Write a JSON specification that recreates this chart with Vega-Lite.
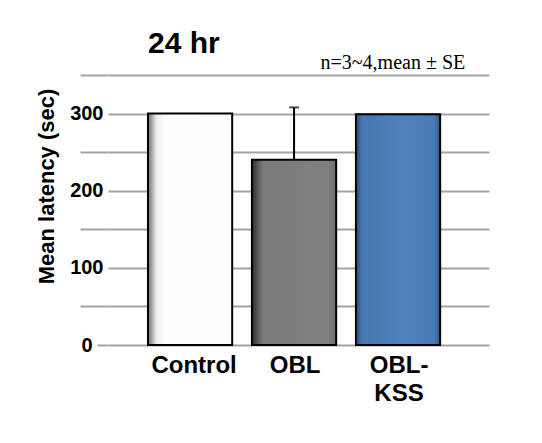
{
  "$schema": "https://vega.github.io/schema/vega-lite/v6.json",
  "width": 381,
  "height": 270,
  "autosize": {"type": "none"},
  "padding": {"left": 108, "top": 75, "right": 53, "bottom": 98},
  "background": "white",
  "config": {"view": {"stroke": null}, "font": "Liberation Sans"},
  "title": {"text": "24 hr", "anchor": "start", "frame": "group", "dx": 40, "fontSize": 30, "font": "Liberation Sans", "fontWeight": "bold", "color": "black", "baseline": "alphabetic", "offset": -31},
  "data": {"values": [
    {"group": "Control", "mean": 300},
    {"group": "OBL", "mean": 240, "upper": 308},
    {"group": "OBL-KSS", "mean": 299}
  ]},
  "encoding": {
    "y": {
      "field": "mean", "type": "quantitative",
      "scale": {"domain": [0, 350], "nice": false, "zero": true},
      "axis": {
        "values": [0, 50, 100, 150, 200, 250, 300, 350],
        "grid": true, "gridColor": "#a3a3a3", "gridWidth": 2,
        "domain": false,
        "ticks": true, "tickColor": "#a3a3a3", "tickWidth": 2,
        "tickSize": {"condition": [{"test": "datum.value == 0", "value": 11}, {"test": "datum.value % 100 == 0", "value": 0}], "value": 28},
        "labelExpr": "datum.value % 100 == 0 && datum.value < 350 ? datum.label : ''",
        "labelFontSize": 20, "labelFontWeight": "bold", "labelColor": "black", "labelPadding": 5,
        "title": "Mean latency (sec)", "titleFontSize": 22, "titleFontWeight": "bold", "titleColor": "black",
        "titleX": -62, "titleY": 111, "titleAngle": -90, "titleAlign": "center", "titleBaseline": "middle"
      }
    }
  },
  "layer": [
    {
      "transform": [{"filter": "datum.group == 'Control'"}],
      "mark": {"type": "bar", "stroke": "black", "strokeWidth": 2,
        "fill": {"gradient": "linear", "x1": 0, "x2": 1, "y1": 0, "y2": 0, "stops": [
          {"offset": 0, "color": "#6e6e6e"}, {"offset": 0.1, "color": "#ececec"}, {"offset": 0.2, "color": "#fdfdfd"}, {"offset": 1, "color": "#ffffff"}]}},
      "encoding": {
        "x": {"field": "group", "type": "nominal", "sort": null,
          "scale": {"type": "band", "domain": ["Control", "OBL", "OBL-KSS"], "paddingInner": 0.19, "paddingOuter": 0.427, "align": 0.45},
          "axis": {"orient": "bottom", "title": null, "domain": false, "ticks": false, "grid": false, "labelAngle": 0,
            "labelFontSize": 24, "labelFontWeight": "bold", "labelColor": "black", "labelPadding": 8, "labelBaseline": "top", "labelLineHeight": 28,
            "labelOffset": {"condition": {"test": "datum.value == 'Control'", "value": 4}, "value": 1},
            "labelExpr": "datum.label == 'OBL-KSS' ? ['OBL-', 'KSS'] : datum.label"}}
      }
    },
    {
      "transform": [{"filter": "datum.group == 'OBL'"}],
      "mark": {"type": "bar", "stroke": "black", "strokeWidth": 2,
        "fill": {"gradient": "linear", "x1": 0, "x2": 1, "y1": 0, "y2": 0, "stops": [
          {"offset": 0, "color": "#2e2e2e"}, {"offset": 0.13, "color": "#7a7a7a"}, {"offset": 0.9, "color": "#808080"}, {"offset": 1, "color": "#6c6c6c"}]}},
      "encoding": {"x": {"field": "group", "type": "nominal", "sort": null, "axis": null}}
    },
    {
      "transform": [{"filter": "datum.group == 'OBL-KSS'"}],
      "mark": {"type": "bar", "stroke": "black", "strokeWidth": 2,
        "fill": {"gradient": "linear", "x1": 0, "x2": 1, "y1": 0, "y2": 0, "stops": [
          {"offset": 0, "color": "#2c4a73"}, {"offset": 0.07, "color": "#4677b0"}, {"offset": 0.5, "color": "#4f81bd"}, {"offset": 0.93, "color": "#4a7bb6"}, {"offset": 1, "color": "#35588a"}]}},
      "encoding": {"x": {"field": "group", "type": "nominal", "sort": null, "axis": null}}
    },
    {
      "transform": [{"filter": "isValid(datum.upper)"}],
      "mark": {"type": "rule", "color": "black", "strokeWidth": 2},
      "encoding": {
        "x": {"field": "group", "type": "nominal", "sort": null,
          "axis": {"orient": "top", "labels": false, "ticks": false, "domain": false, "grid": false,
            "title": "n=3~4,mean ± SE", "titleFont": "Liberation Serif", "titleFontSize": 20, "titleFontWeight": "normal", "titleColor": "black",
            "titleX": 212, "titleY": -7, "titleAlign": "left", "titleBaseline": "alphabetic"}},
        "y2": {"field": "upper"}
      }
    },
    {
      "transform": [{"filter": "isValid(datum.upper)"}],
      "mark": {"type": "tick", "orient": "horizontal", "color": "black", "thickness": 2, "size": 10},
      "encoding": {
        "x": {"field": "group", "type": "nominal", "sort": null, "axis": null},
        "y": {
          "field": "upper", "type": "quantitative",
          "axis": {
            "values": [0, 50, 100, 150, 200, 250, 300, 350],
            "grid": true, "gridColor": "#a3a3a3", "gridWidth": 2,
            "domain": false,
            "ticks": true, "tickColor": "#a3a3a3", "tickWidth": 2,
            "tickSize": {"condition": [{"test": "datum.value == 0", "value": 11}, {"test": "datum.value % 100 == 0", "value": 0}], "value": 28},
            "labelExpr": "datum.value % 100 == 0 && datum.value < 350 ? datum.label : ''",
            "labelFontSize": 20, "labelFontWeight": "bold", "labelColor": "black", "labelPadding": 5,
            "title": "Mean latency (sec)", "titleFontSize": 22, "titleFontWeight": "bold", "titleColor": "black",
            "titleX": -62, "titleY": 111, "titleAngle": -90, "titleAlign": "center", "titleBaseline": "middle"
          }
        }
      }
    }
  ],
  "resolve": {"axis": {"x": "independent"}}
}
